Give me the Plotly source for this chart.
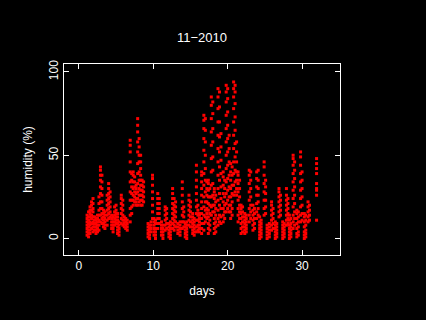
import plotly.graph_objects as go

# Strip positions (days) and humidity readings (%)
strip_day = [1.1, 1.3, 1.5, 1.7, 1.9, 2.1, 2.3, 2.5, 2.7, 2.9, 3.1, 3.3, 3.5, 3.8, 4.0, 4.2, 4.4, 4.6, 4.8, 5.0,
             5.2, 5.4, 5.7, 5.9, 6.1, 6.3, 6.5, 6.9, 7.1, 7.3, 7.5, 7.7, 7.9, 8.1, 8.3, 8.5, 8.7,
             9.3, 9.5, 9.7, 9.9, 10.1, 10.3, 10.6, 10.8, 11.1, 11.3, 11.6, 11.8, 12.1, 12.3, 12.6, 12.8, 13.0,
             13.3, 13.6, 13.9, 14.1, 14.3, 14.5, 14.8, 15.0, 15.3, 15.5, 15.8, 16.0, 16.2, 16.5, 16.8, 17.0,
             17.2, 17.4, 17.6, 17.8, 18.0, 18.2, 18.4, 18.7, 18.9, 19.1, 19.4, 19.6, 19.8, 20.0, 20.2, 20.4,
             20.6, 20.8, 21.0, 21.2, 21.4, 21.6, 21.8, 22.0, 22.3, 22.5, 22.9, 23.1, 23.4, 23.6, 23.9, 24.1,
             24.3, 24.5, 24.9, 25.1, 25.3, 25.6, 25.9, 26.1, 26.4, 26.6, 26.9, 27.1, 27.4, 27.6, 27.9, 28.1,
             28.3, 28.5, 28.8, 29.0, 29.3, 29.5, 29.8, 30.0, 30.3, 30.5, 30.8, 31.0, 31.95]

strip_hum = [
    [2, 4, 6, 8, 10, 12, 14], [1, 3, 5, 7, 9, 11, 13, 16], [3, 5, 8, 10, 13, 15, 17, 19],
    [6, 9, 12, 14, 17, 20, 22], [4, 7, 10, 13, 16, 18, 21, 24], [5, 7, 9, 11, 13],
    [3, 5, 7, 9, 11, 12], [4, 6, 8, 10, 12, 14], [5, 8, 11, 14, 17, 21, 25],
    [10, 14, 18, 22, 27, 31, 35, 38, 41, 43], [9, 12, 15, 18, 22, 26, 30, 34, 38], [7, 9, 11, 13, 15, 17],
    [6, 8, 10, 12, 14, 16], [8, 11, 14, 17, 20, 23, 26], [12, 15, 18, 21, 24, 27, 30, 33],
    [13, 16, 19, 22, 25, 28], [6, 8, 10, 12, 14], [4, 6, 8, 10, 13], [8, 10, 12, 14, 16, 19],
    [9, 11, 13, 15, 17, 20], [3, 5, 7, 9, 11, 13, 15], [2, 4, 6, 8, 10], [9, 12, 15, 18, 21, 24, 26],
    [8, 11, 14, 17, 20, 23], [7, 9, 11, 13], [6, 8, 10, 12], [5, 7, 9, 11],
    [10, 14, 18, 23, 28, 34, 40, 46, 52, 56, 59], [15, 19, 23, 27, 31, 35, 39], [20, 23, 26, 30, 34, 38, 40],
    [22, 25, 28, 31, 34, 37], [20, 22, 24, 27, 30, 32], [20, 24, 28, 33, 39, 45, 52, 58, 64, 68, 72],
    [22, 26, 30, 35, 40, 46, 50, 55, 60], [20, 23, 26, 29, 32, 35, 38, 42, 46, 50], [20, 23, 26, 29, 32, 35],
    [22, 25, 28, 31, 34],
    [1, 3, 5, 7, 9], [0, 2, 4, 6, 8], [4, 6, 8, 10], [12, 16, 20, 24, 28, 32, 36, 38], [2, 4, 6, 8, 10, 12],
    [0, 2, 4, 6, 9, 11], [6, 9, 12, 15, 18, 21, 24, 27], [9, 12, 15, 18, 21, 24], [2, 4, 6, 8, 10],
    [0, 2, 4, 6, 8], [5, 8, 11, 14, 17, 19], [6, 9, 12, 15, 18], [1, 3, 5, 7, 9], [0, 2, 4, 6, 8, 10],
    [6, 9, 12, 15, 18, 21, 24, 27, 30], [5, 8, 11, 14, 17, 20, 24], [7, 10, 13, 16, 19, 22],
    [3, 5, 7, 9], [2, 4, 6, 8, 10], [6, 10, 14, 18, 22, 26, 30, 34], [7, 10, 13, 16, 19], [1, 3, 5, 7, 9],
    [0, 2, 4, 6, 8, 10], [8, 11, 14, 17, 20, 23, 26], [7, 10, 13, 16, 19, 22], [3, 5, 7, 9, 11, 13, 15],
    [2, 4, 6, 8, 10, 12], [4, 7, 11, 15, 19, 23, 27, 31, 35, 40, 44], [5, 8, 11, 14, 17, 20],
    [4, 6, 8, 10, 12, 14, 15], [3, 6, 9, 12, 15, 18, 22, 26, 30, 34, 38, 40],
    [5, 9, 14, 19, 25, 32, 39, 46, 53, 60, 66, 71, 74], [10, 13, 17, 22, 28, 35, 42, 50, 58, 65, 72],
    [12, 15, 18, 22, 26, 30, 34], [3, 6, 9, 13, 17, 21, 25, 29, 33, 35], [5, 8, 11, 15, 20, 25, 30],
    [14, 19, 25, 32, 40, 48, 56, 64, 72, 80, 85], [16, 20, 26, 33, 41, 49, 58, 66, 75, 82],
    [3, 6, 9, 12, 16, 20, 24, 28, 30], [4, 7, 10, 14, 18, 22, 26],
    [8, 12, 17, 23, 30, 38, 46, 54, 62, 70, 78, 85, 90], [10, 14, 20, 27, 35, 43, 52, 61, 70, 79, 88],
    [9, 13, 18, 24, 31, 39, 47, 55, 63], [10, 14, 18, 22, 27, 32, 37, 40], [12, 16, 20, 25, 30, 35],
    [16, 21, 27, 34, 42, 50, 58, 66, 74, 82, 88, 92], [18, 23, 29, 36, 44, 52, 60, 68, 76, 84, 90],
    [16, 20, 25, 31, 38, 46, 54, 62], [12, 16, 20, 25, 30, 35, 40, 45],
    [14, 18, 22, 27, 32, 38, 43], [26, 32, 39, 46, 54, 62, 70, 78, 85, 90, 94],
    [28, 34, 41, 49, 57, 65, 73, 81, 88, 92], [26, 30, 35, 40, 46, 52, 58], [10, 14, 18, 23, 28, 33, 38, 40],
    [12, 16, 20, 25, 30, 35], [3, 6, 9, 12, 15, 18, 20], [4, 7, 10, 13, 16, 19], [3, 5, 7, 9, 11, 13, 15],
    [4, 6, 8, 10, 12, 14], [10, 14, 18, 23, 28, 33, 38, 41], [12, 16, 20, 25, 30, 35, 40],
    [5, 8, 11, 14, 17, 20], [6, 9, 12, 15, 18], [12, 16, 21, 26, 31, 36, 40], [14, 18, 22, 26, 30, 35, 41],
    [0, 2, 4, 6, 8, 10, 13], [1, 3, 5, 7, 9, 11], [14, 18, 23, 28, 33, 38, 43, 46], [15, 19, 23, 27, 31, 35],
    [0, 2, 4, 6, 8], [1, 3, 5, 7, 9], [5, 8, 11, 14, 17, 20, 22], [6, 9, 12, 15, 18], [0, 2, 4, 6, 8, 10],
    [1, 3, 5, 7, 9], [13, 16, 19, 22, 25, 28, 30], [14, 17, 20, 23, 26], [0, 2, 4, 6, 8, 10], [1, 3, 5, 7, 9],
    [8, 11, 14, 17, 20, 23, 26, 30], [9, 12, 15, 18, 21, 24],
    [0, 2, 4, 6, 8, 11, 14], [1, 3, 5, 7, 9, 12], [6, 10, 14, 19, 24, 29, 34, 39, 44, 48, 50],
    [8, 12, 16, 21, 26, 31, 36, 41, 46], [1, 3, 6, 9, 12, 15, 17], [2, 4, 7, 10, 13, 16],
    [10, 14, 19, 24, 29, 34, 39, 44, 49, 52], [11, 15, 20, 25, 30, 35, 40], [0, 2, 4, 7, 10, 13, 15],
    [1, 3, 5, 8, 11, 14], [10, 13, 16, 19, 22], [11, 14, 17, 20], [11, 26, 29, 30, 33, 39, 42, 45, 48],
]

x_ticks = [0, 10, 20, 30]
y_ticks = [0, 50, 100]

days = [d for d, vals in zip(strip_day, strip_hum) for _ in vals]
humidity = [v for vals in strip_hum for v in vals]

fig = go.Figure(go.Scatter(
    x=days, y=humidity, mode="markers",
    marker=dict(symbol="square", size=3, color="#ff0000", line=dict(width=0)),
    showlegend=False, hoverinfo="skip",
))

font = dict(family="Liberation Sans, Arial, sans-serif", size=12, color="white")

axis_common = dict(
    showgrid=False, zeroline=False, showline=True, linecolor="white", linewidth=1,
    mirror="ticks", ticks="inside", ticklen=5, tickwidth=1, tickcolor="white",
    tickfont=font,
)

fig.update_layout(
    width=426, height=320,
    paper_bgcolor="black", plot_bgcolor="black",
    margin=dict(l=64, r=86, t=64, b=65),
    font=font,
    title=dict(text="11\u22122010", x=0.5, xref="paper", y=1 - 37 / 320, yanchor="middle",
               font=dict(family="Liberation Sans, Arial, sans-serif", size=13, color="white")),
    xaxis=dict(range=[-2.0, 35.1], tickvals=x_ticks, ticktext=[str(t) for t in x_ticks],
               title=dict(text="days", font=font, standoff=14), **axis_common),
    yaxis=dict(range=[-9.9, 104.8], tickvals=y_ticks, ticktext=[str(t) for t in y_ticks],
               tickangle=-90, title=dict(text="humidity (%)", font=font, standoff=12), **axis_common),
)

fig.write_html(
    "out.html",
    config={"displayModeBar": False, "staticPlot": True},
    post_script="document.body.style.margin='0';document.body.style.background='black';",
)
